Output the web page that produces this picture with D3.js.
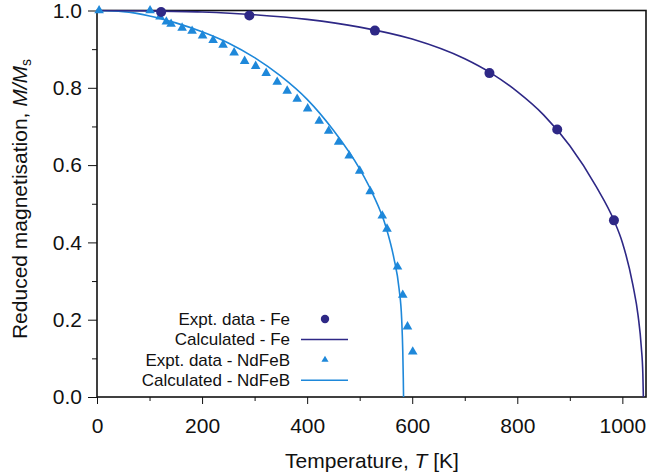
<!DOCTYPE html>
<html>
<head>
<meta charset="utf-8">
<script src="https://cdn.jsdelivr.net/npm/d3@7"></script>
<style>
  body { margin: 0; background: #fff; }
  svg { display: block; font-family: "Liberation Sans", Arial, sans-serif; }
  .axis text { font-size: 21px; fill: #111; }
  .axis path, .axis line { stroke: #111; }
</style>
</head>
<body>
<svg id="chart" width="649" height="472"></svg>
<script>
// experimental points, Fe
var feT = [122, 290, 529, 747, 876, 984];
var feM = [0.996, 0.987, 0.948, 0.838, 0.692, 0.457];

// calculated curve, Fe
var feCalcT = [0, 100, 200, 300, 400, 500, 600, 700, 750, 800, 850, 900, 950, 984, 1000, 1020, 1030, 1036, 1039, 1040];
var feCalcM = [1.0, 0.999, 0.996, 0.989, 0.977, 0.957, 0.926, 0.875, 0.838, 0.79, 0.73, 0.65, 0.545, 0.457, 0.40, 0.29, 0.21, 0.13, 0.06, 0];

// experimental points, NdFeB
var ndT = [4, 101, 120, 132, 141, 162, 181, 201, 221, 240, 261, 281, 302, 322, 343, 362, 381, 401, 423, 441, 460, 480, 500, 520, 543, 552, 572, 582, 591, 601];
var ndM = [1.0, 1.0, 0.984, 0.971, 0.965, 0.955, 0.947, 0.935, 0.923, 0.911, 0.891, 0.869, 0.856, 0.838, 0.815, 0.792, 0.771, 0.746, 0.714, 0.688, 0.66, 0.624, 0.585, 0.532, 0.469, 0.435, 0.337, 0.264, 0.182, 0.117];

// calculated curve, NdFeB
var ndCalcT = [0, 50, 100, 150, 200, 250, 300, 350, 400, 450, 500, 525, 550, 565, 575, 580, 582, 583, 583.5];
var ndCalcM = [1.0, 0.997, 0.986, 0.968, 0.945, 0.916, 0.878, 0.83, 0.77, 0.69, 0.59, 0.525, 0.44, 0.36, 0.28, 0.2, 0.12, 0.05, 0];

var xTicks = [0, 200, 400, 600, 800, 1000];
var yTicks = [0, 0.2, 0.4, 0.6, 0.8, 1.0];

var feColor = "#2e2886";
var ndColor = "#1e88da";

var svg = d3.select("#chart");
var mLeft = 97, mRight = 646, mTop = 10.5, mBottom = 397;

var x = d3.scaleLinear().domain([0, 1045]).range([mLeft, mRight]);
var y = d3.scaleLinear().domain([0, 1]).range([mBottom, mTop]);

svg.append("defs").append("clipPath").attr("id", "plot")
  .append("rect").attr("x", mLeft).attr("y", mTop - 1)
  .attr("width", mRight - mLeft).attr("height", mBottom - mTop + 1);

// minor ticks
var gx = svg.append("g").attr("class", "axis").attr("transform", "translate(0," + mBottom + ")");
gx.call(d3.axisBottom(x).tickValues(d3.range(100, 1001, 200)).tickSize(4).tickFormat(""))
  .select(".domain").remove();
gx.append("g").call(d3.axisBottom(x).tickValues(xTicks).tickSize(7).tickPadding(14).tickFormat(d3.format("d")))
  .select(".domain").remove();

var gy = svg.append("g").attr("class", "axis").attr("transform", "translate(" + mLeft + ",0)");
gy.call(d3.axisLeft(y).tickValues([0.1, 0.3, 0.5, 0.7, 0.9]).tickSize(5).tickFormat(""))
  .select(".domain").remove();
gy.append("g").call(d3.axisLeft(y).tickValues(yTicks).tickSize(9).tickPadding(6).tickFormat(d3.format(".1f")))
  .select(".domain").remove();
svg.selectAll(".axis text").attr("font-size", 21);

// frame
svg.append("rect").attr("x", mLeft).attr("y", mTop)
  .attr("width", mRight - mLeft).attr("height", mBottom - mTop)
  .attr("fill", "none").attr("stroke", "#111").attr("stroke-width", 1.6);

var plot = svg.append("g").attr("clip-path", "url(#plot)");

var line = d3.line()
  .x(function(d) { return x(d[0]); })
  .y(function(d) { return y(d[1]); })
  .curve(d3.curveMonotoneX);

plot.append("path").datum(d3.zip(ndCalcT, ndCalcM))
  .attr("d", line).attr("fill", "none").attr("stroke", ndColor).attr("stroke-width", 1.6);
plot.append("path").datum(d3.zip(feCalcT, feCalcM))
  .attr("d", line).attr("fill", "none").attr("stroke", feColor).attr("stroke-width", 1.6);

var tri = d3.symbol().type(d3.symbolTriangle).size(40);
svg.append("g").selectAll("path").data(d3.zip(ndT, ndM)).join("path")
  .attr("d", tri)
  .attr("transform", function(d) { return "translate(" + x(d[0]) + "," + y(d[1]) + ")"; })
  .attr("fill", ndColor);

svg.append("g").selectAll("circle").data(d3.zip(feT, feM)).join("circle")
  .attr("cx", function(d) { return x(d[0]); })
  .attr("cy", function(d) { return y(d[1]); })
  .attr("r", 5).attr("fill", feColor);

// legend
var legend = [
  { label: "Expt. data - Fe", kind: "dot", color: feColor },
  { label: "Calculated - Fe", kind: "line", color: feColor },
  { label: "Expt. data - NdFeB", kind: "tri", color: ndColor },
  { label: "Calculated - NdFeB", kind: "line", color: ndColor }
];
var lg = svg.append("g").attr("transform", "translate(290,319)");
lg.selectAll("g").data(legend).join("g")
  .attr("transform", function(d, i) { return "translate(0," + (i * 20.4) + ")"; })
  .each(function(d) {
    var g = d3.select(this);
    g.append("text").attr("text-anchor", "end").attr("y", 6)
      .attr("font-size", 17).attr("fill", "#111").text(d.label);
    if (d.kind == "dot") {
      g.append("circle").attr("cx", 35).attr("r", 4.2).attr("fill", d.color);
    } else if (d.kind == "tri") {
      g.append("path").attr("d", d3.symbol().type(d3.symbolTriangle).size(22))
        .attr("transform", "translate(35,0)").attr("fill", d.color);
    } else {
      g.append("line").attr("x1", 11).attr("x2", 58).attr("stroke", d.color).attr("stroke-width", 1.5);
    }
  });

// axis titles
var xt = svg.append("text").attr("x", 372).attr("y", 468).attr("text-anchor", "middle")
  .attr("font-size", 21).attr("fill", "#111");
xt.append("tspan").text("Temperature, ");
xt.append("tspan").attr("font-style", "italic").text("T");
xt.append("tspan").text(" [K]");

var yt = svg.append("text").attr("transform", "translate(27,199) rotate(-90)")
  .attr("text-anchor", "middle").attr("font-size", 21).attr("fill", "#111");
yt.append("tspan").text("Reduced magnetisation, ");
yt.append("tspan").attr("font-style", "italic").text("M/M");
yt.append("tspan").attr("font-size", 14).attr("dy", 4).text("s");
</script>
</body>
</html>
